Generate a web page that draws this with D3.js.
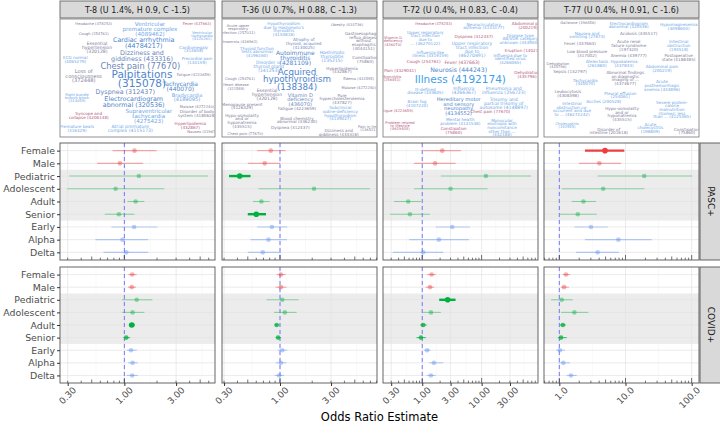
<!DOCTYPE html>
<html>
<head>
<meta charset="utf-8">
<script src="https://cdn.jsdelivr.net/npm/d3@7"></script>
<style>
  body { margin: 0; background: #fff; }
  text { font-family: "DejaVu Sans", sans-serif; }
</style>
</head>
<body>
<div id="chart"></div>
<script>
// ----------------------------------------------- //
// Data
var rows = ["Female", "Male", "Pediatric", "Adolescent", "Adult", "Senior", "Early", "Alpha", "Delta"];
var rowGroup = ["sex", "sex", "age", "age", "age", "age", "variant", "variant", "variant"];
var facets = ["PASC+", "COVID+"];
var topics = ["T-8 (U 1.4%, H 0.9, C -1.5)", "T-36 (U 0.7%, H 0.88, C -1.3)",
              "T-72 (U 0.4%, H 0.83, C -0.4)", "T-77 (U 0.4%, H 0.91, C -1.6)"];

// [odds ratio, lower CI, upper CI] per row
var t8Pasc = [[1.24,0.78,1.98],[0.91,0.56,1.49],[1.36,0.31,5.90],[0.83,0.296,2.33],[1.27,1.07,1.53],[0.89,0.66,1.24],[1.23,0.76,2.02],[0.96,0.54,1.66],[1.04,0.64,1.66]];
var t8Covid = [[1.18,1.09,1.30],[1.17,1.08,1.28],[1.30,0.95,1.81],[1.19,0.95,1.53],[1.17,1.10,1.24],[1.04,0.98,1.13],[1.15,1.05,1.30],[1.19,1.08,1.33],[1.18,1.05,1.33]];
var t36Pasc = [[0.82,0.61,1.13],[0.72,0.50,1.00],[0.42,0.334,0.53],[2.08,0.63,6.93],[0.67,0.56,0.80],[0.60,0.50,0.74],[0.84,0.61,1.17],[0.78,0.53,1.16],[0.69,0.50,1.02]];
var t36Covid = [[1.02,0.93,1.13],[1.02,0.91,1.15],[1.05,0.75,1.49],[1.11,0.88,1.43],[0.93,0.89,0.99],[0.96,0.91,1.02],[1.05,0.95,1.17],[1.02,0.91,1.15],[0.98,0.89,1.09]];
var t72Pasc = [[2.17,1.04,4.48],[1.64,0.73,3.64],[11.8,2.06,67.7],[3.0,0.73,12.6],[0.58,0.334,0.95],[0.62,0.287,1.35],[3.2,1.68,6.35],[1.91,0.60,6.1],[1.04,0.32,2.26]];
var t72Covid = [[1.44,1.21,1.68],[1.35,1.14,1.59],[2.68,1.93,3.64],[1.40,1.02,2.06],[1.04,0.92,1.19],[0.95,0.80,1.15],[1.21,1.07,1.38],[1.57,1.31,2.26],[1.40,1.19,1.68]];
var t77Pasc = [[4.9,2.44,9.6],[4.02,1.98,8.57],[19.2,3.8,101],[4.6,1.09,19.2],[2.31,1.54,3.58],[1.9,1.02,3.67],[3.01,1.69,5.38],[7.8,2.44,24.9],[3.8,1.79,7.96]];
var t77Covid = [[1.26,1.13,1.45],[1.18,1.06,1.40],[1.09,0.75,1.59],[1.69,1.06,2.74],[1.13,1.02,1.25],[1.06,0.95,1.29],[1.02,0.89,1.22],[1.15,0.97,1.45],[1.50,1.29,1.83]];

// significance class per row (0 none, 1 weak, 2 strong)
var pascSig = [[0,0,0,0,0,0,0,0,0],[0,0,2,0,0,2,0,0,0],[0,0,0,0,0,0,0,0,0],[2,0,0,0,0,0,0,0,0]];
var covidSig = [[0,0,0,0,2,1,0,0,0],[0,0,0,0,1,1,0,0,0],[0,0,2,0,1,1,0,0,0],[0,0,0,0,1,1,0,0,0]];

var majorTicks = [[0.3,1,3],[0.3,1,3],[0.3,1,3,10,30],[1,10,100]];
var tickFormats = [".2f", ".2f", ".2f", ".1f"];

// word clouds: [text (| = line break), weight, colour class]
var cloudT8 = [
  ["Headache (378253)",1,"g"],["Ventricular|premature complex|(4089462)",3,"l"],["Fever (437663)",1,"p"],
  ["Cough (254761)",1,"g"],["Ventricular|tachycardia|(4120261)",1,"l"],["Essential|hypertension|(320128)",2,"g"],
  ["Cardiac arrhythmia|(44784217)",4,"b"],["Cardiomegaly|(314658)",1.5,"l"],["ECG normal|(4065279)",1.5,"l"],
  ["Dizziness and|giddiness (433316)",4,"s"],["Precordial pain|(134159)",1.5,"l"],["Chest pain (77670)",5,"s"],
  ["Loss of|consciousness|(372448)",2.5,"g"],["Palpitations|(315078)",6,"b"],["Fatigue (4223659)",1,"g"],
  ["Tachycardia|(440070)",3.5,"b"],["Right bundle|branch block|(314059)",1,"l"],["Dyspnea (312437)",4,"s"],
  ["Bradycardia|(4189095)",2.5,"l"],["Electrocardiogram|abnormal (320536)",4,"b"],["Malaise (4272240)",1,"g"],
  ["Supraventricular|tachycardia|(4275423)",3,"l"],["Syncope and|collapse (4206148)",1.5,"p"],["Disorder of body|system (4180628)",1.5,"g"],
  ["Hyperlipidemia|(432867)",1.5,"p"],["Premature beats|(316429)",1.5,"l"],["Atrial premature|complex (4115173)",2,"l"],
  ["Nausea (31967)",1,"g"]
];
var cloudT36 = [
  ["Acute upper|respiratory|infection (257011)",1,"g"],["Hypothyroidism|due to Hashimoto's|thyroiditis|(4150818)",1.5,"l"],["Obesity (433736)",1,"g"],
  ["Gastroesophageal|reflux disease|without|esophagitis|(4044151)",1.5,"g"],["Insomnia (436962)",1,"g"],["Atrophy of|thyroid, acquired|(4130025)",1.5,"s"],
  ["Thyroid function|tests abnormal|(4196160)",1.5,"l"],["Autoimmune|thyroiditis|(4281109)",3.5,"b"],["Hashimoto|thyroiditis|(135215)",2,"l"],
  ["Constipation|(75860)",1.5,"g"],["Disorder of|thyroid gland|(141253)",2,"l"],["Hyperlipidemia|(432867)",1.5,"g"],
  ["Acquired|hypothyroidism|(138384)",5.2,"b"],["Cough (254761)",1,"g"],["Edema (433595)",1,"g"],
  ["Heart disease|(321588)",1,"g"],["Essential|hypertension|(320128)",2,"g"],["Vitamin D|deficiency|(436070)",2.5,"s"],
  ["Malaise (4272240)",1,"g"],["Pure|hypercholesterolemia|(437827)",1.5,"g"],["Menopause present|(4126329)",1.5,"g"],
  ["Fatigue (4223659)",1.5,"g"],["Subclinical|iodine-deficiency|hypothyroidism|(4139027)",1.5,"l"],["Hypo-osmolality|and or|hyponatremia|(435515)",1.5,"g"],
  ["Blood chemistry|abnormal (436230)",1.5,"g"],["Dyspnea (312437)",1.5,"g"],["Pain in limb|(136521)",1,"g"],
  ["Dizziness and|giddiness (433316)",1.5,"g"],["Chest pain (77670)",1,"g"]
];
var cloudT72 = [
  ["Headache (378253)",1,"p"],["Neurocirculatory|asthenia (4133177)",1.5,"l"],["Abdominal pain|(200219)",1.5,"p"],
  ["Vitamin D|deficiency|(436070)",1,"p"],["Upper respiratory|tract infection|due to|... (46270122)",1.5,"l"],["Dyspnea (312437)",1.5,"p"],
  ["Disease type|AB/VOR category|unknown (4439048)",1.5,"l"],["Upper respiratory|tract infection|due to|(46270491)",2,"l"],["Eruption (140214)",1.5,"p"],
  ["Influenza-like|illness (4319159)",1.5,"l"],["Influenza due to|identified virus|(4266065)",1.5,"l"],["Cough (254761)",1.5,"p"],
  ["Fever (437663)",2,"p"],["Pain (4329041)",1.5,"p"],["Neurosis (444243)",3.7,"b"],
  ["Dehydration|(435796)",1.5,"p"],["Bronchitis|(256451)",1,"p"],["Illness (4192174)",6,"c"],
  ["Ill-defined|disease (433605)",1.5,"l"],["Influenza|(4266367)",2,"l"],["Pneumonia and|influenza (256723)",2,"l"],
  ["Brain fog|(4107220)",1.5,"l"],["Hereditary motor|and sensory|neuropathy|(4134552)",2.5,"b"],["Trisomy and|partial trisomy of|autosome (4148897)",2,"l"],
  ["Fatigue (4223659)",1,"p"],["Chest pain (77670)",1.5,"p"],["Mental health|problem (4131548)",1.5,"l"],
  ["Monocular|esotropia with|noncomitance|other than ...|(442188)",1.5,"l"],["Problem related|to lifestyle|(4619404)",1,"p"],["Constipation|(75860)",1.5,"p"]
];
var cloudT77 = [
  ["Gallstone (196456)",1,"g"],["Electrocardiogram|abnormal (320536)",1.5,"l"],["Hypomagnesemia|(4098604)",1.5,"l"],
  ["Nausea and|vomiting (27674)",1.5,"l"],["Acidosis (435517)",1.5,"g"],["Fever (437663)",1.5,"g"],
  ["Acute renal|failure syndrome|(197320)",1.5,"g"],["Intestinal|obstruction|(193518)",1.5,"l"],["Low blood pressure|(317002)",1.5,"g"],
  ["Anemia (439777)",1.5,"g"],["Postoperative|state (4188485)",1.5,"g"],["Dehydration|(435796)",1,"g"],
  ["Atelectasis|(261880)",1.5,"l"],["Hypokalemia|(437833)",1.5,"l"],["Abdominal pain|(200219)",1.5,"l"],
  ["Sepsis (132797)",1.5,"g"],["Abnormal findings|on diagnostic|imaging of ...|(4374677)",1.5,"g"],["Tachycardia|(440070)",1.5,"l"],
  ["Acute|posthemorrhagic|anemia (434896)",1.5,"l"],["Leukocytosis|(4308398)",1.5,"g"],["Pleural effusion|(254061)",1.5,"l"],
  ["Intestinal|obstruction co-|occurrent and due|to ... (46272242)",1.5,"l"],["Ascites (200528)",1.5,"l"],["Hypo-osmolality|and or|hyponatremia|(435515)",1.5,"g"],
  ["Severe protein-|calorie|malnutrition|(Gomez: less|than ... (4125365)",1.5,"l"],["Cholecystitis|(192955)",1,"l"],["Acute|cholecystitis|(198809)",1.5,"l"],
  ["Disorder of|intestine (201618)",1.5,"g"],["Constipation|(75860)",1.5,"g"]
];

// word placement in the clouds (page coordinates)
var posT8 = [[93.7,23.3],[150,28.7],[197,23.3],[93.7,33.7],[202,35.5],[97,47.3],[143.7,42.8],[193.7,49],[75.3,59.7],[142,55.5],[197,60.5],[140.3,65.9],[83.7,75.8],[142,78.8],[193.7,74.7],[180.3,86.3],[77,97.5],[125.3,92],[187,97.2],[133.7,101.9],[197,106.3],[148.7,116],[88.7,115.7],[197,113.8],[190.3,125.7],[77,128.5],[130.3,128.5],[202,132]];
var posT36 = [[238,29],[283.7,29.2],[347,24.7],[363.7,40.8],[240,42],[303.7,43.5],[257,52],[295.3,57.8],[332,56.5],[365.3,59.3],[268.7,66.3],[342,70],[297,79.3],[240,78.7],[358.7,79],[236,86.7],[267,94.7],[300.3,99.6],[358.7,87.3],[342,98.8],[242,106],[297,108.7],[340.3,113.5],[242,120.8],[297,120.2],[290.3,128],[368.7,128.3],[338.7,132.5],[245.3,134]];
var posT72 = [[433.7,23.3],[483.7,26],[528,25.3],[393,41],[425.3,37.6],[473.7,37],[520.3,38.8],[472,49.7],[523.7,50.3],[430.3,54.2],[510.3,58.8],[423.7,62],[462,62],[400,70.7],[458.7,70.3],[527,74.7],[392,78],[460.3,79.7],[425.3,91],[463.7,90.8],[503.7,90.8],[417,103.8],[458.7,106],[503.7,103.6],[396,110.7],[490.3,111.3],[460.3,121.7],[502,127.5],[400,125.5],[453.7,130.8]];
var posT77 = [[578,23],[628.7,25],[678.7,26.8],[587,35],[638.7,34],[580,44],[628.7,45.6],[678.7,45.5],[587,53.3],[628.7,55.3],[678.7,57.5],[558,65],[597,63.3],[624,63.3],[662,68.3],[570,72],[625.3,78],[585.3,82.2],[662,85.5],[568,93.3],[620.3,95],[572,109],[603.7,102],[622,114],[672,109.5],[567,125],[650.3,128],[608.7,131],[687,131]];

var pascData = [t8Pasc, t36Pasc, t72Pasc, t77Pasc];
var covidData = [t8Covid, t36Covid, t72Covid, t77Covid];
var clouds = [cloudT8, cloudT36, cloudT72, cloudT77];
var cloudPos = [posT8, posT36, posT72, posT77];

// ----------------------------------------------- //
// Layout
var svgWidth = 720, svgHeight = 424;
var colX = [60, 222, 383, 544], colW = 155;
var facetTop = [143, 267], facetH = [117, 116];

var groupColor = {sex: "#ee3d3d", age: "#00b140", variant: "#5b8ff2"};
var wordColor = {g: "#7d7b97", l: "#6ea6e6", b: "#4f85cc", s: "#6a86ba", p: "#b5587d", c: "#3ea0ec"};
var wordSize = d3.scaleLinear().domain([1, 2, 3, 4, 5, 6]).range([3.7, 4.6, 5.6, 6.4, 8.3, 10.5]);

var svg = d3.select("#chart").append("svg")
    .attr("width", svgWidth)
    .attr("height", svgHeight);

var defs = svg.append("defs");

// ----------------------------------------------- //
// Word cloud headers
topics.forEach(function(title, i) {
    var x0 = colX[i];
    svg.append("rect").attr("x", x0).attr("y", 1).attr("width", colW).attr("height", 17)
        .attr("fill", "#d9d9d9").attr("stroke", "#555").attr("stroke-width", 0.8);
    svg.append("text").attr("x", x0 + colW / 2).attr("y", 10)
        .attr("text-anchor", "middle").attr("dominant-baseline", "central")
        .attr("font-size", 8).attr("fill", "#1a1a1a").text(title);

    svg.append("rect").attr("x", x0).attr("y", 19).attr("width", colW).attr("height", 118)
        .attr("fill", "#fff").attr("stroke", "#777").attr("stroke-width", 0.8);

    defs.append("clipPath").attr("id", "cloud" + i)
        .append("rect").attr("x", x0 + 0.5).attr("y", 19.5).attr("width", colW - 1).attr("height", 117);

    var cg = svg.append("g").attr("clip-path", "url(#cloud" + i + ")");
    clouds[i].forEach(function(w, k) {
        var lines = w[0].split("|");
        var fs = wordSize(w[1]);
        var lh = fs * 0.88;
        var p = cloudPos[i][k];
        var t = cg.append("text")
            .attr("text-anchor", "middle")
            .attr("font-size", fs.toFixed(2))
            .attr("fill", wordColor[w[2]]);
        lines.forEach(function(line, j) {
            t.append("tspan")
                .attr("x", p[0])
                .attr("y", p[1] - (lines.length - 1) * lh / 2 + j * lh)
                .attr("dy", "0.35em")
                .text(line);
        });
    });
});

// ----------------------------------------------- //
// Scales
var yScales = facets.map(function(f, fi) {
    return d3.scalePoint().domain(rows)
        .range([facetTop[fi], facetTop[fi] + facetH[fi]])
        .padding(0.6);
});

var xScales = topics.map(function(t, i) {
    var all = pascData[i].concat(covidData[i]);
    var lo = Math.log10(d3.min(all, d => d[1]));
    var hi = Math.log10(d3.max(all, d => d[2]));
    var pad = (hi - lo) * 0.05;
    return d3.scaleLog().domain([Math.pow(10, lo - pad), Math.pow(10, hi + pad)])
        .range([colX[i], colX[i] + colW]);
});

function minorBreaks(major, dom) {
    var b = major.map(Math.log10);
    var lo = Math.log10(dom[0]), hi = Math.log10(dom[1]);
    var n = b.length;
    b = [b[0] - (b[1] - b[0])].concat(b, [b[n - 1] + (b[n - 1] - b[n - 2])]);
    var out = [];
    for (var k = 0; k < b.length - 1; k++) {
        var m = (b[k] + b[k + 1]) / 2;
        if (m > lo && m < hi) out.push(Math.pow(10, m));
    }
    return out;
}

function logTicks(dom) {
    var out = [];
    for (var e = Math.floor(Math.log10(dom[0])); e <= Math.ceil(Math.log10(dom[1])); e++) {
        for (var m = 1; m <= 9; m++) {
            var v = m * Math.pow(10, e);
            if (v >= dom[0] && v <= dom[1]) out.push({v: v, m: m});
        }
    }
    return out;
}

// ----------------------------------------------- //
// Forest panels
facets.forEach(function(fname, fi) {
    var data = fi === 0 ? pascData : covidData;
    var sig = fi === 0 ? pascSig : covidSig;
    var yScale = yScales[fi];
    var top = facetTop[fi], h = facetH[fi];
    var step = yScale.step();

    topics.forEach(function(t, i) {
        var xScale = xScales[i];
        var dom = xScale.domain();
        var g = svg.append("g");

        g.append("rect").attr("x", colX[i]).attr("y", top).attr("width", colW).attr("height", h)
            .attr("fill", "#fff");

        // minor grid
        g.selectAll(".minor").data(minorBreaks(majorTicks[i], dom)).enter().append("line")
            .attr("x1", d => xScale(d)).attr("x2", d => xScale(d))
            .attr("y1", top).attr("y2", top + h)
            .attr("stroke", "#f2f2f2").attr("stroke-width", 0.5);

        // age band
        g.append("rect").attr("x", colX[i])
            .attr("y", yScale("Pediatric") - step / 2)
            .attr("width", colW)
            .attr("height", yScale("Senior") - yScale("Pediatric") + step)
            .attr("fill", "#ececec");

        // major grid
        g.selectAll(".major").data(majorTicks[i]).enter().append("line")
            .attr("x1", d => xScale(d)).attr("x2", d => xScale(d))
            .attr("y1", top).attr("y2", top + h)
            .attr("stroke", "#e2e2e2").attr("stroke-width", 0.7);
        g.selectAll(".hgrid").data(rows).enter().append("line")
            .attr("x1", colX[i]).attr("x2", colX[i] + colW)
            .attr("y1", d => yScale(d)).attr("y2", d => yScale(d))
            .attr("stroke", "#e2e2e2").attr("stroke-width", 0.7);

        // reference line at 1
        g.append("line")
            .attr("x1", xScale(1)).attr("x2", xScale(1))
            .attr("y1", top).attr("y2", top + h)
            .attr("stroke", "#6a6aff").attr("stroke-width", 0.9)
            .attr("stroke-dasharray", "4,3");

        // intervals and estimates
        var rowsData = data[i].map(function(d, k) {
            return {row: rows[k], grp: rowGroup[k], or: d[0], lo: d[1], hi: d[2], s: sig[i][k]};
        });
        var alpha = d => d.s === 2 ? 1 : d.s === 1 ? 0.75 : 0.42;

        g.selectAll(".ci").data(rowsData).enter().append("line")
            .attr("x1", d => xScale(d.lo)).attr("x2", d => xScale(d.hi))
            .attr("y1", d => yScale(d.row)).attr("y2", d => yScale(d.row))
            .attr("stroke", d => groupColor[d.grp])
            .attr("stroke-opacity", alpha)
            .attr("stroke-width", d => d.s === 2 ? 2.4 : 1.1);

        g.selectAll(".pt").data(rowsData).enter().append("circle")
            .attr("cx", d => xScale(d.or)).attr("cy", d => yScale(d.row))
            .attr("r", d => d.s === 2 ? 2.8 : 2.3)
            .attr("fill", d => groupColor[d.grp])
            .attr("fill-opacity", alpha);

        // log ticks inside the bottom edge
        g.selectAll(".lt").data(logTicks(dom)).enter().append("line")
            .attr("x1", d => xScale(d.v)).attr("x2", d => xScale(d.v))
            .attr("y1", top + h)
            .attr("y2", d => top + h - (d.m === 1 ? 5 : d.m === 5 ? 3.5 : 2.3))
            .attr("stroke", "#333").attr("stroke-width", 0.7);

        g.append("rect").attr("x", colX[i]).attr("y", top).attr("width", colW).attr("height", h)
            .attr("fill", "none").attr("stroke", "#555").attr("stroke-width", 0.9);

        // y axis on the first column
        if (i === 0) {
            var leftAxis = d3.axisLeft(yScale).tickSize(3).tickPadding(2);
            var ya = svg.append("g").attr("transform", `translate(${colX[0]},0)`).call(leftAxis);
            ya.select(".domain").remove();
            ya.selectAll("line").attr("stroke", "#333");
            ya.selectAll("text").attr("font-size", 9.4).attr("fill", "#4d4d4d")
                .style("font-family", "'DejaVu Sans', sans-serif");
        }

        // x axis on the bottom row
        if (fi === 1) {
            var bottomAxis = d3.axisBottom(xScale).tickValues(majorTicks[i])
                .tickFormat(d3.format(tickFormats[i])).tickSize(3);
            var xa = svg.append("g").attr("transform", `translate(0,${top + h})`).call(bottomAxis);
            xa.select(".domain").remove();
            xa.selectAll("line").attr("stroke", "#333");
            xa.selectAll("text")
                .attr("font-size", 9).attr("fill", "#4d4d4d")
                .style("font-family", "'DejaVu Sans', sans-serif")
                .attr("text-anchor", "end")
                .attr("transform", "translate(2,1) rotate(-45)")
                .attr("dy", "0.72em").attr("y", 3).attr("x", 0);
        }
    });

    // facet strip on the right
    svg.append("rect").attr("x", 700).attr("y", top).attr("width", 24).attr("height", h)
        .attr("fill", "#d9d9d9").attr("stroke", "#555").attr("stroke-width", 0.9);
    svg.append("text")
        .attr("transform", `translate(710.5,${top + h / 2}) rotate(90)`)
        .attr("text-anchor", "middle").attr("dominant-baseline", "central")
        .attr("font-size", 9).attr("fill", "#1a1a1a").text(fname);
});

// axis title
svg.append("text").attr("x", 379.5).attr("y", 421)
    .attr("text-anchor", "middle").attr("font-size", 11.5).attr("fill", "#000")
    .text("Odds Ratio Estimate");
</script>
</body>
</html>
